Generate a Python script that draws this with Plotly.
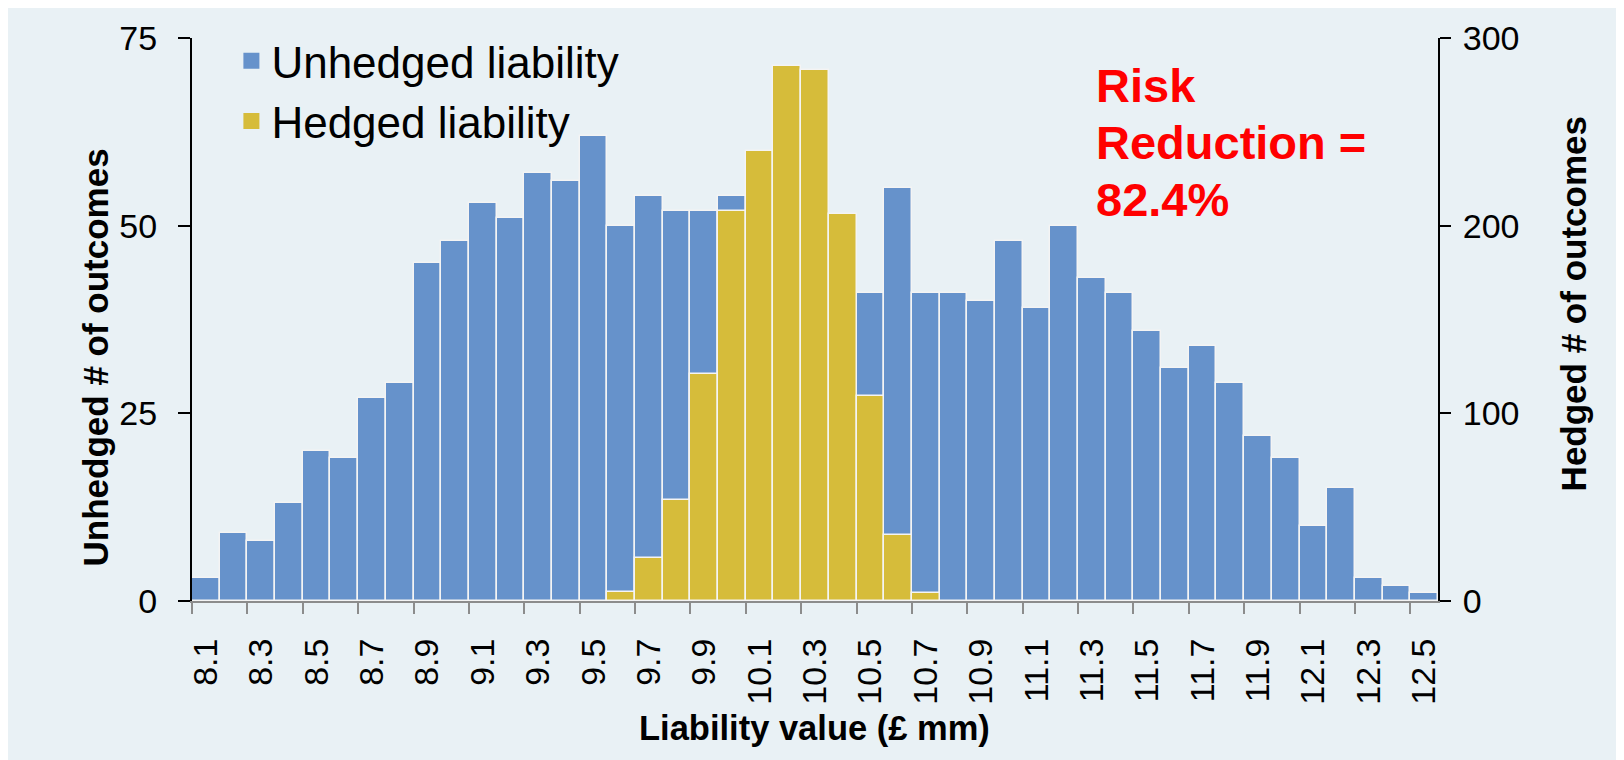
import plotly.graph_objects as go

# ---- data ----
liability = [8.1, 8.2, 8.3, 8.4, 8.5, 8.6, 8.7, 8.8, 8.9, 9.0,
             9.1, 9.2, 9.3, 9.4, 9.5, 9.6, 9.7, 9.8, 9.9, 10.0,
             10.1, 10.2, 10.3, 10.4, 10.5, 10.6, 10.7, 10.8, 10.9, 11.0,
             11.1, 11.2, 11.3, 11.4, 11.5, 11.6, 11.7, 11.8, 11.9, 12.0,
             12.1, 12.2, 12.3, 12.4, 12.5]
unhedged = [3, 9, 8, 13, 20, 19, 27, 29, 45, 48,
            53, 51, 57, 56, 62, 50, 54, 52, 52, 54,
            46, 42, 44, 40, 41, 55, 41, 41, 40, 48,
            39, 50, 43, 41, 36, 31, 34, 29, 22, 19,
            10, 15, 3, 2, 1]
hedged = [0, 0, 0, 0, 0, 0, 0, 0, 0, 0,
          0, 0, 0, 0, 0, 5, 23, 54, 121, 208,
          240, 285, 283, 206, 109, 35, 4, 0, 0, 0,
          0, 0, 0, 0, 0, 0, 0, 0, 0, 0,
          0, 0, 0, 0, 0]
tick_labels = [f"{v:.1f}" for v in liability[::2]]
risk_lines = ["Risk", "Reduction =", "82.4%"]

# ---- style ----
BLUE = "#6692CB"
GOLD = "#D6BC3A"
BG = "#E9F1F5"
FONT = "Liberation Sans, Arial, sans-serif"
W_PX, H_PX = 1624, 760
OFF = 8  # page body margin
# plot area in screen pixels
SX0, SX1, SY0, SY1 = 191.6, 1437.6, 38.3, 600.7
L = SX0 - OFF
R = W_PX - (SX1 - OFF)
T = SY0 - OFF
B = H_PX - (SY1 - OFF)
PW, PH = SX1 - SX0, SY1 - SY0

def px_x(p):
    return (p - SX0) / PW

def px_y(p):
    return (SY1 - p) / PH

step = 0.1
x_range = [liability[0] - step / 2, liability[-1] + step / 2]
boundaries = [round(v - step / 2, 2) for v in liability[::2]]

fig = go.Figure()
fig.add_trace(go.Bar(x=liability, y=unhedged, name="Unhedged liability",
                     marker=dict(color=BLUE, line=dict(color="#F4F4F4", width=1.5)),
                     width=step, showlegend=False, yaxis="y"))
fig.add_trace(go.Bar(x=liability, y=[v if v else None for v in hedged], name="Hedged liability",
                     marker=dict(color=GOLD, line=dict(color="#F4F4F4", width=1.5)),
                     width=step, showlegend=False, yaxis="y2"))
# legend proxies
fig.add_trace(go.Scatter(x=[None], y=[None], mode="markers", name="Unhedged liability",
                         marker=dict(symbol="square", size=16, color=BLUE)))
fig.add_trace(go.Scatter(x=[None], y=[None], mode="markers", name="Hedged liability",
                         marker=dict(symbol="square", size=16, color=GOLD)))

fig.update_layout(
    width=W_PX, height=H_PX,
    margin=dict(l=L, r=R, t=T, b=B, pad=0),
    paper_bgcolor=BG, plot_bgcolor=BG,
    barmode="overlay", bargap=0,
    font=dict(family=FONT, color="#000000"),
    showlegend=True,
    legend=dict(x=px_x(231), y=px_y(26), xanchor="left", yanchor="top",
                bgcolor="rgba(0,0,0,0)", font=dict(size=44, family=FONT),
                itemsizing="trace", tracegroupgap=0),
    xaxis=dict(range=x_range, tickmode="array", tickvals=liability[::2], ticktext=tick_labels,
               tickangle=-90, ticks="", tickfont=dict(size=34), showgrid=False, zeroline=False,
               showline=True, linecolor="#8C8C8C", linewidth=2, automargin=False,
               ticklabelstandoff=22,
               minor=dict(tickmode="array", tickvals=boundaries, ticks="outside", ticklen=11,
                          tickcolor="#8C8C8C", tickwidth=2, showgrid=False)),
    yaxis=dict(range=[0, 75], tickvals=[0, 25, 50, 75], ticks="outside", ticklen=12,
               tickwidth=2, tickcolor="#000", showline=True, linecolor="#000", linewidth=2,
               tickfont=dict(size=34), showgrid=False, zeroline=False, automargin=False,
               ticklabelstandoff=14),
    yaxis2=dict(range=[0, 300], tickvals=[0, 100, 200, 300], overlaying="y", side="right",
                ticks="outside", ticklen=11, tickwidth=2, tickcolor="#000", showline=True,
                linecolor="#000", linewidth=2, tickfont=dict(size=34), showgrid=False,
                zeroline=False, automargin=False, ticklabelstandoff=5),
    yaxis3=dict(range=[0, 300], tickvals=[0, 100, 200, 300], overlaying="y", side="right",
                ticks="inside", ticklen=11, tickwidth=2, tickcolor="#000", showline=False,
                showticklabels=False, showgrid=False, zeroline=False, automargin=False),
)

annotations = [
    dict(text="<b>Unhedged # of outcomes</b>", x=px_x(95), y=px_y(357), textangle=-90,
         font=dict(size=35, family=FONT)),
    dict(text="<b>Hedged # of outcomes</b>", x=px_x(1574), y=px_y(304), textangle=-90,
         font=dict(size=35, family=FONT)),
    dict(text="<b>Liability value (£ mm)</b>", x=px_x(814), y=px_y(728),
         font=dict(size=34.5, family=FONT)),
]
for line, yc in zip(risk_lines, [86, 143, 200]):
    annotations.append(dict(text=f"<b>{line}</b>", x=px_x(1094), y=px_y(yc), xanchor="left",
                            font=dict(size=47, family=FONT, color="#FF0000")))
for a in annotations:
    a.setdefault("xanchor", "center")
    a.setdefault("yanchor", "middle")
    fig.add_annotation(xref="paper", yref="paper", showarrow=False, **a)

fig.write_html("out.html")
